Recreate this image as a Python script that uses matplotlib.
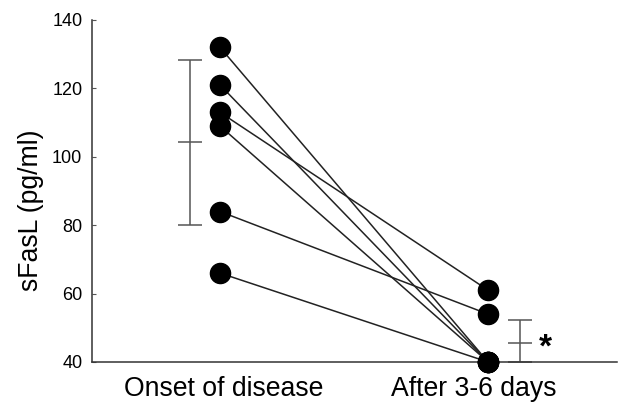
import matplotlib
matplotlib.use("Agg")
import matplotlib.pyplot as plt
from matplotlib.transforms import ScaledTranslation
import numpy as np

categories = ["Onset of disease", "After 3-6 days"]
onset = [132, 121, 113, 109, 84, 66]
after = [40, 40, 61, 40, 54, 40]
means = [104.2, 45.6]
err_low = [24.0, 5.6]
err_high = [24.2, 6.7]
yticks = [40, 60, 80, 100, 120, 140]

plt.rcParams['font.family'] = ['Liberation Sans', 'DejaVu Sans']

fig = plt.figure(figsize=(6.21, 4.05), dpi=100)
ax = fig.add_axes([92/621, 1-362/405, (617-92)/621, (362-20)/405])

xs = [1, 2]
for a, b in zip(onset, after):
    ax.plot(xs, [a, b], color='#222222', lw=1.1, zorder=2)
ax.plot([1]*len(onset), onset, 'o', color='black', ms=14.5, zorder=3, clip_on=False)
ax.plot([2]*len(after), after, 'o', color='black', ms=14.5, zorder=3, clip_on=False)

eb_x = [0.888, 2.119]
for x, m, lo, hi in zip(eb_x, means, err_low, err_high):
    ax.errorbar([x], [m], yerr=[[lo], [hi]], fmt='none', ecolor='#555555',
                elinewidth=1.1, capsize=8.5, capthick=1.1, zorder=1)
    ax.plot([x], [m], marker='_', ms=17, mew=1.1, color='#555555', zorder=1)

ax.text(2.213, 44.0, '*', fontsize=24, fontweight='bold', ha='center', va='center')

ax.set_xlim(0.5224, 2.481)
ax.set_ylim(40, 140)
ax.set_yticks(yticks)
ax.set_yticklabels([str(t) for t in yticks], fontsize=13)
ax.tick_params(axis='y', direction='in', length=3, width=0.8, color='#555555', pad=7)
ax.set_xticks(xs)
ax.set_xticklabels(categories, fontsize=19.2)
ax.tick_params(axis='x', length=0, pad=10)
offs = [4, -14]
for lbl, o in zip(ax.get_xticklabels(), offs):
    lbl.set_transform(lbl.get_transform() + ScaledTranslation(o/100, 0, fig.dpi_scale_trans))
ax.set_ylabel('sFasL (pg/ml)', fontsize=19.2)
ax.yaxis.set_label_coords(-0.092, 0.444)

for s in ['top', 'right']:
    ax.spines[s].set_visible(False)
for s in ['left', 'bottom']:
    ax.spines[s].set_color('#333333')
    ax.spines[s].set_linewidth(1.1)

fig.savefig('out.png', dpi=100)
